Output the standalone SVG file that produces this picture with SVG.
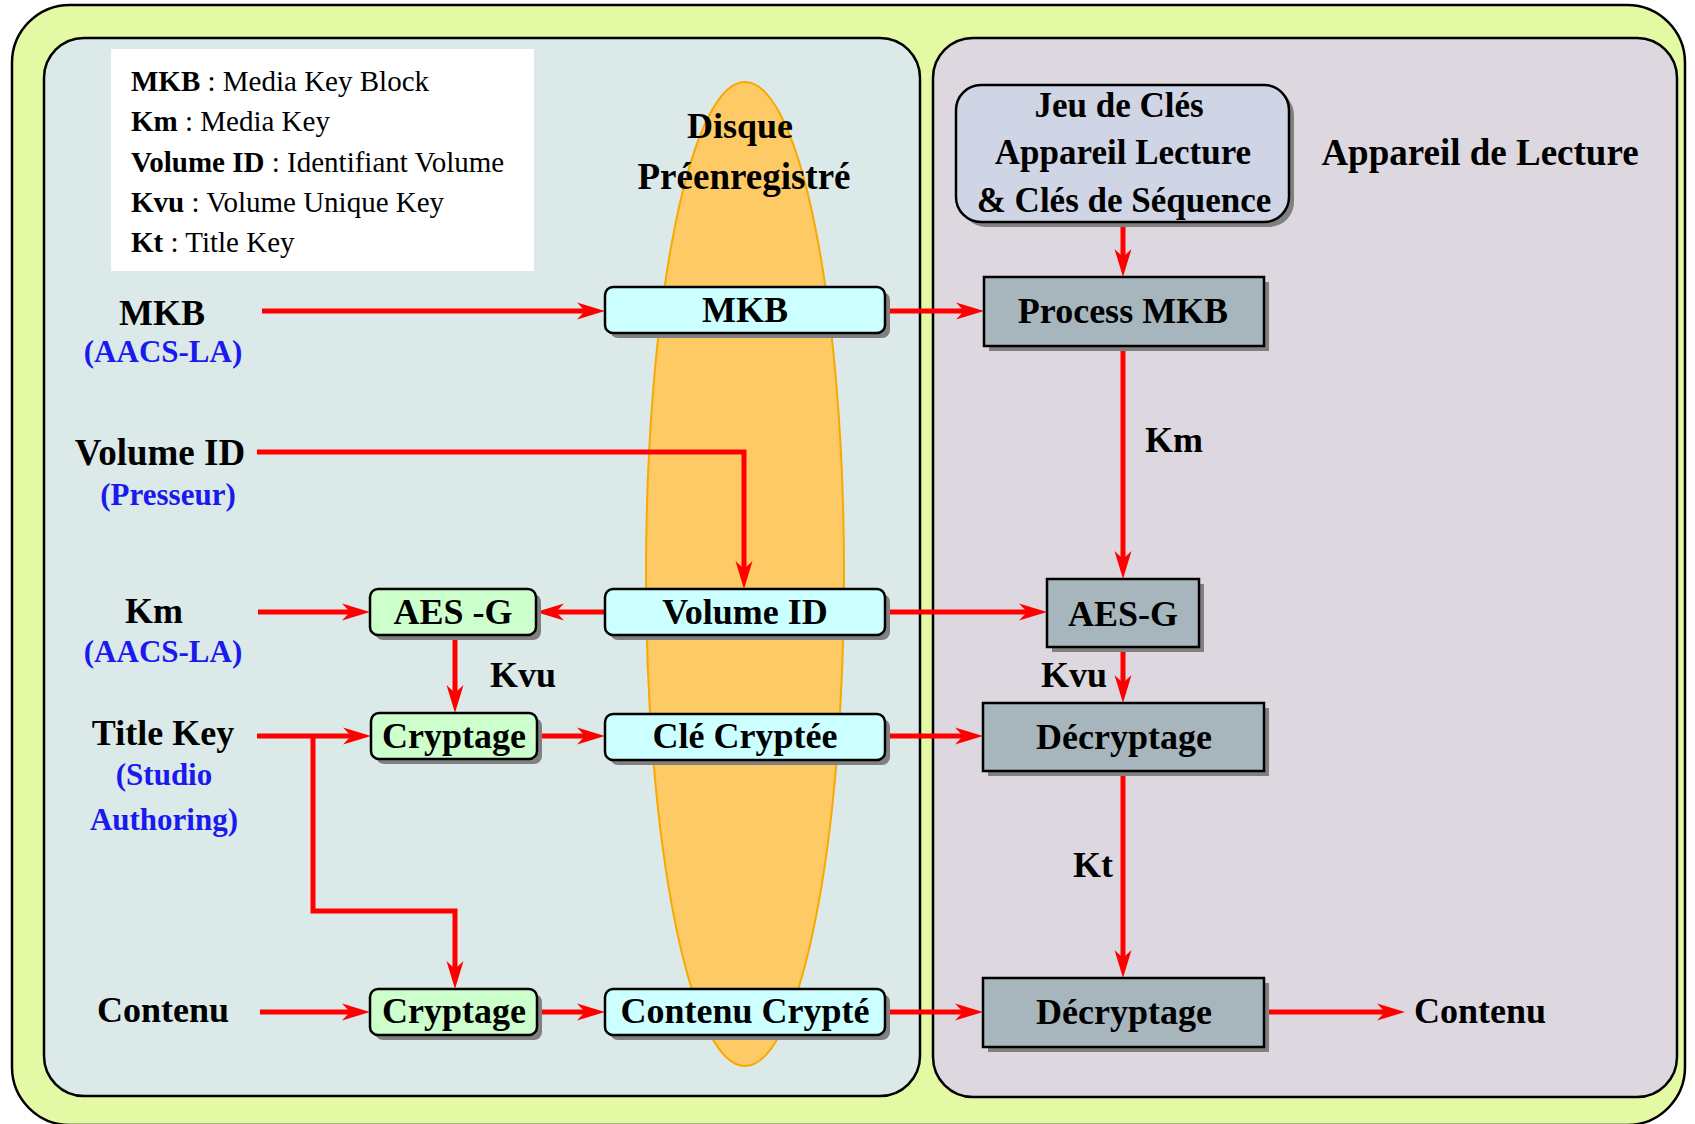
<svg xmlns="http://www.w3.org/2000/svg" width="1695" height="1124" viewBox="0 0 1695 1124">
<defs>
<style>
.t{font-family:"Liberation Serif","Times New Roman",serif;font-weight:bold;font-size:36px;fill:#000;text-anchor:middle}
.b{fill:#1a1aee}
.leg{font-family:"Liberation Serif","Times New Roman",serif;font-size:29px;fill:#000}
.leg tspan.k{font-weight:bold}
.cyan{fill:#ccffff;stroke:#000;stroke-width:2.5}
.green{fill:#ccffcc;stroke:#000;stroke-width:2.5}
.gray{fill:#a7b6bc;stroke:#000;stroke-width:2.5}
.jeu{fill:#cfd5e4;stroke:#000;stroke-width:2.5}
.sh{fill:#808080}
.c{fill:none;stroke:#ff0000;stroke-width:5;marker-end:url(#ah)}
</style>
<marker id="ah" markerUnits="userSpaceOnUse" markerWidth="32" markerHeight="22" viewBox="-16 -11 32 22" refX="0" refY="0" orient="auto">
<path d="M14,0 L-14,-8.5 L-6,0 L-14,8.5 Z" fill="#ff0000"/>
</marker>
</defs>

<g id="background">
<rect x="12" y="5" width="1673" height="1120" rx="58" fill="#e3f9a4" stroke="#000" stroke-width="2.5"/>
<rect id="panel-disque" x="44" y="38" width="876" height="1058" rx="40" fill="#dce9e9" stroke="#000" stroke-width="2.5"/>
<rect id="panel-appareil" x="933" y="38" width="744" height="1059" rx="40" fill="#ddd8df" stroke="#000" stroke-width="2.5"/>
<ellipse id="disque" cx="745" cy="574" rx="99" ry="492" fill="#fdca66" stroke="#f9a800" stroke-width="2"/>
</g>

<g id="legend">
<rect x="111" y="49" width="423" height="222" fill="#ffffff"/>
<text class="leg" x="131" y="91"><tspan class="k">MKB</tspan> : Media Key Block</text>
<text class="leg" x="131" y="131"><tspan class="k">Km</tspan> : Media Key</text>
<text class="leg" x="131" y="172"><tspan class="k">Volume ID</tspan> : Identifiant Volume</text>
<text class="leg" x="131" y="212"><tspan class="k">Kvu</tspan> : Volume Unique Key</text>
<text class="leg" x="131" y="252"><tspan class="k">Kt</tspan> : Title Key</text>
</g>

<g id="titles">
<text class="t" x="740" y="138">Disque</text>
<text class="t" x="744" y="189" style="font-size:37px">Préenregistré</text>
<text class="t" x="1480" y="165" style="font-size:37px">Appareil de Lecture</text>
</g>

<g id="connectors">
<path class="c" d="M262,311 H591"/>
<path class="c" d="M885,311 H970"/>
<path class="c" d="M1123,222 V263"/>
<path class="c" d="M1123,346 V565"/>
<path class="c" d="M257,452 H744 V575"/>
<path class="c" d="M605,612 H550"/>
<path class="c" d="M885,612 H1033"/>
<path class="c" d="M258,612 H356"/>
<path class="c" d="M455,635 V699"/>
<path class="c" d="M1123,647 V689"/>
<path class="c" d="M257,736 H357"/>
<path class="c" d="M313,736 V911 H455 V975"/>
<path class="c" d="M537,736 H591"/>
<path class="c" d="M885,736 H969"/>
<path class="c" d="M1123,771 V964"/>
<path class="c" d="M260,1012 H356"/>
<path class="c" d="M537,1012 H591"/>
<path class="c" d="M885,1012 H969"/>
<path class="c" d="M1264,1012 H1391"/>
</g>

<g id="edge-labels">
<text class="t" x="1174" y="452">Km</text>
<text class="t" x="523" y="687">Kvu</text>
<text class="t" x="1074" y="687">Kvu</text>
<text class="t" x="1093" y="877">Kt</text>
</g>

<g id="src-mkb"><text class="t" x="162" y="325">MKB</text><text class="t b" x="163" y="362" style="font-size:31px">(AACS-LA)</text></g>
<g id="src-volumeid"><text class="t" x="160" y="465" style="font-size:37px">Volume ID</text><text class="t b" x="168" y="505" style="font-size:31px">(Presseur)</text></g>
<g id="src-km"><text class="t" x="154" y="623">Km</text><text class="t b" x="163" y="662" style="font-size:31px">(AACS-LA)</text></g>
<g id="src-titlekey"><text class="t" x="163" y="745">Title Key</text><text class="t b" x="164" y="785" style="font-size:31px">(Studio</text><text class="t b" x="164" y="830" style="font-size:31px">Authoring)</text></g>
<g id="src-contenu"><text class="t" x="163" y="1022">Contenu</text></g>

<g id="disk-mkb"><rect class="sh" x="610" y="292" width="280" height="46" rx="8"/><rect class="cyan" x="605" y="287" width="280" height="46" rx="8"/><text class="t" x="745" y="322">MKB</text></g>
<g id="disk-volumeid"><rect class="sh" x="610" y="594" width="280" height="46" rx="8"/><rect class="cyan" x="605" y="589" width="280" height="46" rx="8"/><text class="t" x="745" y="624">Volume ID</text></g>
<g id="disk-cle"><rect class="sh" x="610" y="719" width="280" height="46" rx="8"/><rect class="cyan" x="605" y="714" width="280" height="46" rx="8"/><text class="t" x="745" y="748">Clé Cryptée</text></g>
<g id="disk-contenu"><rect class="sh" x="610" y="994" width="280" height="46" rx="8"/><rect class="cyan" x="605" y="989" width="280" height="46" rx="8"/><text class="t" x="745" y="1023">Contenu Crypté</text></g>

<g id="aes-g-left"><rect class="sh" x="375" y="594" width="166" height="46" rx="8"/><rect class="green" x="370" y="589" width="166" height="46" rx="8"/><text class="t" x="453" y="624">AES -G</text></g>
<g id="cryptage-1"><rect class="sh" x="376" y="718" width="166" height="46" rx="8"/><rect class="green" x="371" y="713" width="166" height="46" rx="8"/><text class="t" x="454" y="748">Cryptage</text></g>
<g id="cryptage-2"><rect class="sh" x="375" y="994" width="167" height="46" rx="8"/><rect class="green" x="370" y="989" width="167" height="46" rx="8"/><text class="t" x="454" y="1023">Cryptage</text></g>

<g id="jeu-de-cles"><rect class="sh" x="961" y="90" width="333" height="137" rx="25"/><rect class="jeu" x="956" y="85" width="333" height="137" rx="25"/>
<text class="t" x="1119" y="117" style="font-size:35px">Jeu de Clés</text>
<text class="t" x="1123" y="164" style="font-size:35px">Appareil Lecture</text>
<text class="t" x="1124" y="212" style="font-size:35px">&amp; Clés de Séquence</text></g>
<g id="process-mkb"><rect class="sh" x="989" y="282" width="280" height="69"/><rect class="gray" x="984" y="277" width="280" height="69"/><text class="t" x="1123" y="323">Process MKB</text></g>
<g id="aes-g-right"><rect class="sh" x="1052" y="584" width="152" height="68"/><rect class="gray" x="1047" y="579" width="152" height="68"/><text class="t" x="1123" y="626">AES-G</text></g>
<g id="decryptage-1"><rect class="sh" x="988" y="708" width="281" height="68"/><rect class="gray" x="983" y="703" width="281" height="68"/><text class="t" x="1124" y="749">Décryptage</text></g>
<g id="decryptage-2"><rect class="sh" x="988" y="983" width="281" height="69"/><rect class="gray" x="983" y="978" width="281" height="69"/><text class="t" x="1124" y="1024">Décryptage</text></g>
<g id="out-contenu"><text class="t" x="1480" y="1023">Contenu</text></g>
</svg>
